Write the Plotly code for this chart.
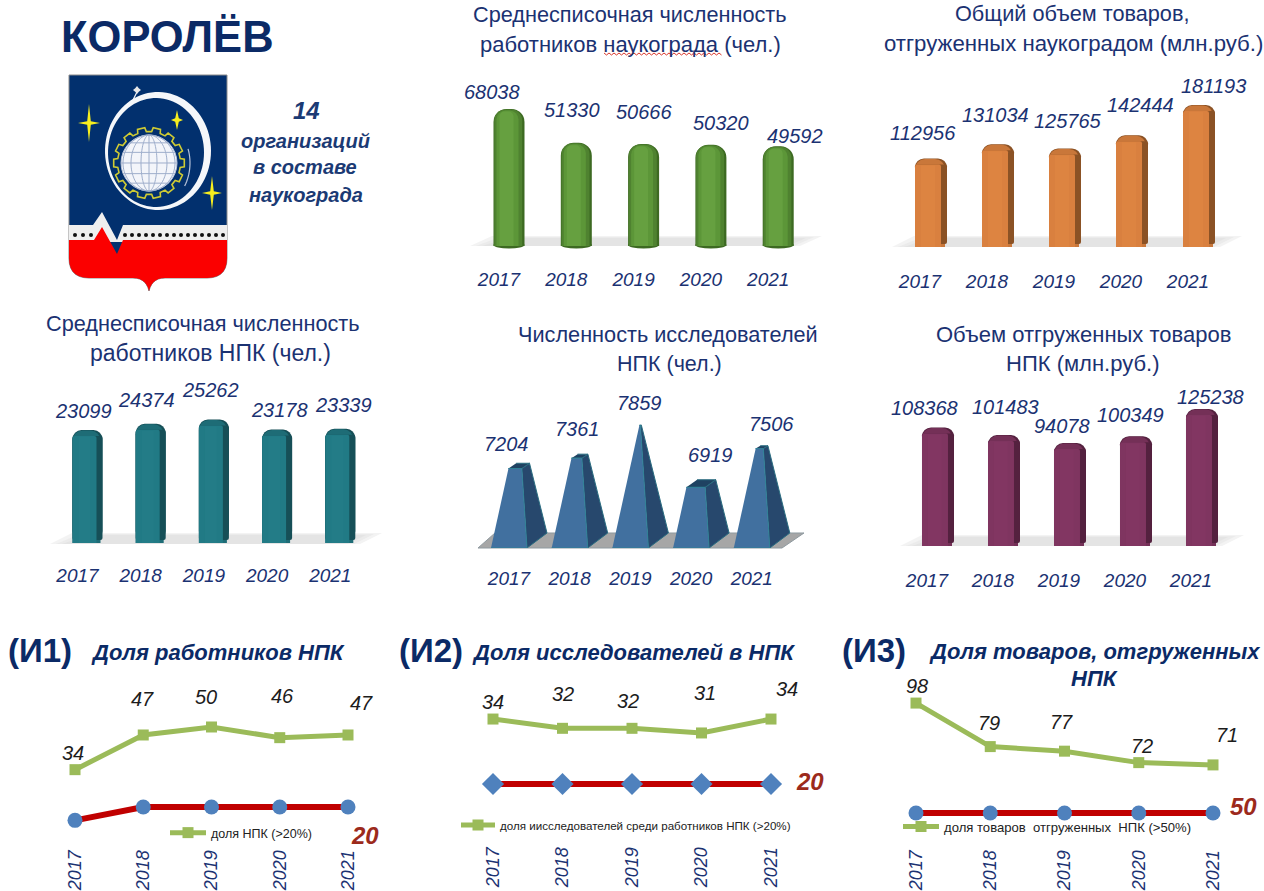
import numpy as np
import plotly.graph_objects as go

# ---------- data ----------
years = [2017, 2018, 2019, 2020, 2021]
staff_city = [68038, 51330, 50666, 50320, 49592]
goods_city = [112956, 131034, 125765, 142444, 181193]
staff_npk = [23099, 24374, 25262, 23178, 23339]
researchers_npk = [7204, 7361, 7859, 6919, 7506]
goods_npk = [108368, 101483, 94078, 100349, 125238]
share_staff = [34, 47, 50, 46, 47]
share_staff_limit = [15, 20, 20, 20, 20]
share_research = [34, 32, 32, 31, 34]
share_research_limit = [20, 20, 20, 20, 20]
share_goods = [98, 79, 77, 72, 71]
share_goods_limit = [50, 50, 50, 50, 50]

# ---------- layout helpers ----------
W, H = 1264, 891
NAVY = "#1b3272"
FONT = "Liberation Sans"
fx = lambda x: x / W
fy = lambda y: 1 - y / H

shapes, annotations = [], []
layout = dict(
    width=W, height=H, margin=dict(l=0, r=0, t=0, b=0, autoexpand=False), autosize=False,
    paper_bgcolor="white", plot_bgcolor="rgba(0,0,0,0)",
    font=dict(family=FONT, color=NAVY), hovermode=False,
)
fig = go.Figure()


def path(points, close=True):
    s = "M " + " L ".join(f"{fx(x):.5f} {fy(y):.5f}" for x, y in points)
    return s + (" Z" if close else "")


def add_path(points, fill=None, line=None, lw=0, close=True, opacity=1, raw=None):
    shapes.append(dict(type="path", path=raw or path(points, close), xref="paper", yref="paper",
                       fillcolor=fill or "rgba(0,0,0,0)", opacity=opacity, layer="below",
                       fillrule="evenodd",
                       line=dict(color=line or "rgba(0,0,0,0)", width=lw)))


def add_circle(cx, cy, rx, ry, fill, line=None, lw=0):
    shapes.append(dict(type="circle", xref="paper", yref="paper", layer="below",
                       x0=fx(cx - rx), x1=fx(cx + rx), y0=fy(cy + ry), y1=fy(cy - ry),
                       fillcolor=fill, line=dict(color=line or "rgba(0,0,0,0)", width=lw)))


def text(x, y, s, size, color=NAVY, bold=False, italic=False, anchor="center", family=FONT):
    annotations.append(dict(x=fx(x), y=fy(y), xref="paper", yref="paper", text=s, showarrow=False,
                            xanchor=anchor, yanchor="middle", align="center",
                            font=dict(size=size, color=color, family=family,
                                      weight="bold" if bold else "normal",
                                      style="italic" if italic else "normal")))


axis_no = [0]


def make_axes(x_first, dx, y_top, y_base, px_per_unit, base_value=0, tick_len=22,
              tick_shift=0, angle=0, tick_size=19, pad=0.72):
    """Places one pair of axes so that the years and values land on the wanted pixels."""
    axis_no[0] += 1
    n = axis_no[0]
    suffix = "" if n == 1 else str(n)
    r0, r1 = years[0] - pad, years[-1] + pad
    px0 = x_first - pad * dx
    px1 = x_first + (len(years) - 1 + pad) * dx
    layout["xaxis" + suffix] = dict(
        domain=[fx(px0), fx(px1)], range=[r0, r1], anchor="y" + suffix, tickmode="array",
        tickvals=years, ticktext=[str(y) for y in years], showgrid=False, zeroline=False,
        showline=False, ticks="outside", ticklen=tick_len, tickcolor="rgba(0,0,0,0)",
        ticklabelshift=int(round(tick_shift)), tickangle=angle, automargin=False,
        tickfont=dict(size=tick_size, style="italic", color=NAVY, family=FONT),
    )
    layout["yaxis" + suffix] = dict(
        domain=[fy(y_base), fy(y_top)], anchor="x" + suffix, visible=False, showgrid=False,
        zeroline=False, automargin=False, range=[base_value, base_value + (y_base - y_top) / px_per_unit],
    )
    ref = ("x" + suffix, "y" + suffix)

    def to_px(year, value):
        return x_first + dx * (year - years[0]), y_base - (value - base_value) * px_per_unit

    return ref, to_px


def value_labels(ref, to_px, values, positions, size=20, color=NAVY):
    for yr, v, (lx, ly) in zip(years, values, positions):
        px, py = to_px(yr, v)
        annotations.append(dict(x=yr, y=v, xref=ref[0], yref=ref[1], text=str(v), showarrow=False,
                                xshift=lx - px, yshift=py - ly, xanchor="center", yanchor="middle",
                                font=dict(size=size, color=color, style="italic", family=FONT)))


def floor_band(floor):
    fx0, fx1, fy0, fy1, skew = floor
    for k, op in enumerate([0.35, 0.35, 0.45]):
        add_path([(fx0 + 6 * k, fy0), (fx1 - 6 * k, fy0), (fx1 + skew - 8 * k, fy1 + k),
                  (fx0 + skew + 8 * k, fy1 + k)], fill="#dcdcdc", opacity=op)


def cylinder_chart(values, colors, x_first, dx, y_base, px_per_unit, width, tick_shift, label_pos,
                   floor, tick_len):
    ref, to_px = make_axes(x_first, dx, 60, y_base, px_per_unit, tick_len=tick_len, tick_shift=tick_shift)
    floor_band(floor)
    layers = [(width, 0, 0, colors[0]), (width - 3, -0.8, 0.6, colors[1]),
              (width - 9, -1.5, 1.6, colors[2]), (width - 17, -2.5, 2.6, colors[3])]
    for yr, v in zip(years, values):
        px, _ = to_px(yr, v)
        add_circle(px, y_base - 1, width / 2, 3.5, colors[0])
    for w, shift, drop, col in layers:
        fig.add_trace(go.Bar(
            x=years, y=[v - drop / px_per_unit for v in values], xaxis=ref[0], yaxis=ref[1],
            width=w / dx, offset=(shift - w / 2) / dx, showlegend=False,
            marker=dict(color=col, line_width=0, cornerradius=max(3, w * 0.42)),
        ))
    value_labels(ref, to_px, values, label_pos)


def box_chart(values, colors, x_first, dx, y_top, y_base, px_per_unit, width, tick_shift, label_pos,
              floor, tick_len):
    """Rounded box: dark right side, slightly darker top cap, flat front face."""
    side, cap, face, sheen = colors
    ref, to_px = make_axes(x_first, dx, y_top, y_base, px_per_unit, tick_len=tick_len, tick_shift=tick_shift)
    floor_band(floor)
    front = width - 6
    fig.add_trace(go.Bar(
        x=years, y=[v - 3 / px_per_unit for v in values], base=[3 / px_per_unit] * len(values),
        xaxis=ref[0], yaxis=ref[1], width=width / dx, offset=-width / 2 / dx, showlegend=False,
        marker=dict(color=side, line_width=0, cornerradius=9),
    ))
    fig.add_trace(go.Bar(
        x=years, y=[v - 0.5 / px_per_unit for v in values], xaxis=ref[0], yaxis=ref[1],
        width=(width - 2) / dx, offset=-(width / 2) / dx, showlegend=False,
        marker=dict(color=cap, line_width=0, cornerradius=10),
    ))
    # the side strip shows again below the cap
    fig.add_trace(go.Bar(
        x=years, y=[v - 9 / px_per_unit for v in values], base=[3 / px_per_unit] * len(values),
        xaxis=ref[0], yaxis=ref[1], width=width / dx, offset=-width / 2 / dx, showlegend=False,
        marker=dict(color=side, line_width=0, cornerradius=2),
    ))
    fig.add_trace(go.Bar(
        x=years, y=[v - 6 / px_per_unit for v in values], xaxis=ref[0], yaxis=ref[1],
        width=front / dx, offset=-width / 2 / dx, showlegend=False,
        marker=dict(color=face, line_width=0, cornerradius=2),
    ))
    fig.add_trace(go.Bar(
        x=years, y=[v - 7 / px_per_unit for v in values], xaxis=ref[0], yaxis=ref[1],
        width=(front - 12) / dx, offset=(-width / 2 + 6) / dx, showlegend=False,
        marker=dict(color=sheen, line_width=0, cornerradius=1),
    ))
    value_labels(ref, to_px, values, label_pos)


def line_chart(main, limit, x_first, dx, y_top, y_base, scale, base_value, symbol, limit_size,
               label_pos, legend_name, legend_key, legend_xy, limit_pos, legend_size, item_width):
    ref, to_px = make_axes(x_first, dx, y_top, y_base, scale, base_value=base_value, tick_len=8,
                           angle=-90, tick_size=18, pad=0.35)
    fig.add_trace(go.Scatter(
        x=years, y=limit, xaxis=ref[0], yaxis=ref[1], mode="lines+markers", showlegend=False,
        line=dict(color="#C00000", width=6), cliponaxis=False,
        marker=dict(color="#4F81BD", size=limit_size, symbol=symbol),
    ))
    fig.add_trace(go.Scatter(
        x=years, y=main, xaxis=ref[0], yaxis=ref[1], mode="lines+markers", name=legend_name,
        line=dict(color="#9BBB59", width=5), cliponaxis=False, legend=legend_key,
        marker=dict(color="#9BBB59", size=11, symbol="square"),
    ))
    value_labels(ref, to_px, main, label_pos, color="#1c1c1c")
    layout[legend_key] = dict(x=fx(legend_xy[0]), y=fy(legend_xy[1]), xanchor="left", yanchor="middle",
                              bgcolor="rgba(0,0,0,0)", font=dict(size=legend_size, color="#222222", family=FONT),
                              itemwidth=item_width, tracegroupgap=0, borderwidth=0)
    text(limit_pos[0], limit_pos[1], str(limit[-1]), 24, color="#9c2a1c", bold=True, italic=True)


# ---------- bar panels ----------
cylinder_chart(staff_city, ["#3d6a22", "#4f8230", "#5c9638", "#66a040"], 509, 67.3, 246, 137 / 68038, 31, -10,
               [(492, 92), (572, 110), (644, 112), (721, 123), (795, 136)], (470, 800, 246, 236, 22), 16)
box_chart(goods_city, ["#8b5225", "#c9773a", "#d9803f", "#dd8441"], 931, 67, 60, 247, 142 / 181193, 32, -11,
          [(923, 133), (995, 115), (1068, 121), (1140, 105), (1213, 86)], (892, 1220, 247, 236, 22), 17)
box_chart(staff_npk, ["#164f57", "#1e6c76", "#217a85", "#237c87"], 87.5, 63.2, 380, 543, 113 / 23099, 30, -10,
          [(84, 411), (147, 400), (211, 390), (280, 410), (344, 405)], (50, 360, 544, 533, 22), 15)
box_chart(goods_npk, ["#54213f", "#743057", "#7f3560", "#823662"], 938, 66, 380, 546, 137 / 125238, 32, -11,
          [(924, 408), (1005, 407), (1062, 426), (1130, 415), (1210, 397)], (900, 1222, 546, 535, 22), 17)

# ---------- pyramid panel ----------
PY_BASE = 6000
PY_SCALE = 0.066
PY_DX = 60.7
ref4, to_px4 = make_axes(509, PY_DX, 380, 548, PY_SCALE, base_value=PY_BASE, tick_len=13, pad=0.72)
apex = max(researchers_npk)
add_path([(478, 548), (782, 548), (804, 533), (495, 533)], fill="#a6a6a6", line="#8f9aa0", lw=1)
for yr, v in zip(years, researchers_npk):
    t = (v - PY_BASE) / (apex - PY_BASE)
    to_u = lambda p: p / PY_DX
    left, right = -18, 18
    l_top, r_top = left + 27 * t, right - 8 * t
    back_b, back_t = right + 20, right + 20 - 27 * t
    lift = 15
    fig.add_trace(go.Scatter(
        x=[yr + to_u(right), yr + to_u(back_b), yr + to_u(back_t), yr + to_u(r_top)],
        y=[PY_BASE, PY_BASE + lift / PY_SCALE, v + (lift * (1 - t)) / PY_SCALE, v],
        xaxis=ref4[0], yaxis=ref4[1], mode="lines", fill="toself", fillcolor="#27486d",
        line=dict(color="#2a6d80", width=1), showlegend=False, cliponaxis=False,
    ))
    fig.add_trace(go.Scatter(
        x=[yr + to_u(l_top), yr + to_u(r_top), yr + to_u(back_t), yr + to_u(l_top + (back_t - r_top))],
        y=[v, v, v + (lift * (1 - t)) / PY_SCALE, v + (lift * (1 - t)) / PY_SCALE],
        xaxis=ref4[0], yaxis=ref4[1], mode="lines", fill="toself", fillcolor="#1f4262",
        line=dict(color="#2a6d80", width=1), showlegend=False, cliponaxis=False,
    ))
    fig.add_trace(go.Scatter(
        x=[yr + to_u(left), yr + to_u(right), yr + to_u(r_top), yr + to_u(l_top)],
        y=[PY_BASE, PY_BASE, v, v],
        xaxis=ref4[0], yaxis=ref4[1], mode="lines", fill="toself", fillcolor="#41709f",
        line=dict(color="#2f8296", width=1), showlegend=False, cliponaxis=False,
    ))
value_labels(ref4, to_px4, researchers_npk, [(507, 444), (578, 429), (640, 403), (711, 455), (772, 424)])

# ---------- line panels ----------
line_chart(share_staff, share_staff_limit, 75, 68.25, 680, 834, 2.667, 20 - (834 - 807) / 2.667, "circle", 15,
           [(73, 753), (142, 699), (206, 697), (282, 696), (361, 703)],
           "доля НПК (>20%)", "legend", (165, 833), (365, 835), 12.5, 36)
line_chart(share_research, share_research_limit, 493, 69.5, 680, 831, 4.64, 20 - (831 - 784) / 4.64, "diamond", 17,
           [(493, 702), (563, 694), (628, 701), (705, 693), (787, 689)],
           "доля иисследователей среди работников НПК (>20%)", "legend2", (456, 825), (810, 781), 11.6, 34)
line_chart(share_goods, share_goods_limit, 916, 74.25, 680, 834, 2.29, 50 - (834 - 813) / 2.29, "circle", 15,
           [(917, 686), (989, 723), (1061, 722), (1142, 746), (1227, 735)],
           "доля товаров \u00a0отгруженных \u00a0НПК (>50%)", "legend3", (898, 827), (1243, 806), 13.1, 36)

# ---------- titles ----------
text(630, 14, "Среднесписочная численность", 21.7)
text(630, 44, "работников наукограда (чел.)", 22)
text(1072, 13, "Общий объем товаров,", 21.7)
text(1073, 43, "отгруженных наукоградом (млн.руб.)", 22.2)
text(203, 323, "Среднесписочная численность", 21.7)
text(210, 353, "работников НПК (чел.)", 23)
text(668, 334, "Численность исследователей", 21.7)
text(669, 364, "НПК (чел.)", 21.5)
text(1083, 334, "Объем отгруженных товаров", 22)
text(1082, 364, "НПК (млн.руб.)", 22)
zig = [(604 + i * 2.5, 53 + (i % 2) * 2) for i in range(48)]
add_path(zig, line="#d8362a", lw=1, close=False)

text(168, 37, "КОРОЛЁВ", 43.5, color="#0b2a66", bold=True)
text(306, 110, "14", 24, color="#1b3a74", bold=True, italic=True)
text(305, 141, "организаций", 20, color="#1b3a74", bold=True, italic=True)
text(305, 167, "в составе", 20, color="#1b3a74", bold=True, italic=True)
text(306, 195, "наукограда", 20, color="#1b3a74", bold=True, italic=True)

HEAD = "#0b2a66"
text(40, 650, "(И1)", 33, color=HEAD, bold=True)
text(218, 652, "Доля работников НПК", 22, color=HEAD, bold=True, italic=True)
text(431, 650, "(И2)", 33, color=HEAD, bold=True)
text(633, 652, "Доля исследователей в НПК", 22, color=HEAD, bold=True, italic=True)
text(874, 650, "(И3)", 33, color=HEAD, bold=True)
text(1094, 651, "Доля товаров, отгруженных", 22, color=HEAD, bold=True, italic=True)
text(1094, 678, "НПК", 22, color=HEAD, bold=True, italic=True)

# ---------- emblem (decoration) ----------
def qcurve(p0, c, p1, n=8):
    return [((1 - t) ** 2 * p0[0] + 2 * (1 - t) * t * c[0] + t ** 2 * p1[0],
             (1 - t) ** 2 * p0[1] + 2 * (1 - t) * t * c[1] + t ** 2 * p1[1])
            for t in np.linspace(0, 1, n)]


lower_edge = (qcurve((227, 258), (227, 278), (207, 278)) + qcurve((165, 278), (152, 278), (149, 291))
              + qcurve((149, 291), (146, 278), (133, 278)) + qcurve((89, 278), (69, 278), (69, 258)))
add_path([(69, 75), (227, 75)] + lower_edge, fill="#02306e", line="#8b8b8b", lw=1)
add_path([(69, 225), (93, 225), (102, 212), (117, 240), (123, 225), (227, 225), (227, 242), (69, 242)],
         fill="#efefef")
add_path([(69, 240), (94, 240), (102, 227), (117, 254), (123, 240), (227, 240)] + lower_edge, fill="#fb0000")
for dot_x in [75, 83, 91] + [125 + 7 * i for i in range(15)]:
    add_circle(dot_x, 235, 2, 2, "#111111")


def ellipse(cx, cy, rx, ry, a0=0, a1=360, n=90):
    ang = np.radians(np.linspace(a0, a1, n))
    return [(cx + rx * np.cos(a), cy + ry * np.sin(a)) for a in ang]


# orbit ring, heavier on the upper right
add_path(None, fill="#f5f7fa", raw=path(ellipse(158, 151, 53, 59)) + " " + path(ellipse(156, 152.5, 48, 54.5)))
add_path([(127, 108), (133, 100), (137, 92)], line="#f5f7fa", lw=1.2, close=False)
add_path(ellipse(150, 163, 40, 46, -18, 30, 16), line="#b7c3da", lw=1.2, close=False)

# gear and globe
gear = []
STEP = 360 / 14
for i in range(14):
    for a, r in ((-6, 35.5), (6, 35.5), (8, 31.5), (STEP - 8, 31.5)):
        ang = np.radians(i * STEP + a)
        gear.append((149 + r * np.cos(ang), 163 + r * np.sin(ang)))
add_path(gear, line="#cfcb33", lw=1.6)
add_circle(149, 163, 28, 28, "#f3f5fa", line="#b9c4da", lw=1)
for rx in (8, 18, 26):
    add_path(ellipse(149, 163, rx, 28), line="#9eaecb", lw=1, close=False)
add_path([(149, 135), (149, 191)], line="#9eaecb", lw=1, close=False)
for k in (-0.72, -0.38, 0, 0.38, 0.72):
    half = 28 * np.sqrt(1 - k * k)
    add_path([(149 - half, 163 + k * 28), (149 + half, 163 + k * 28)], line="#9eaecb", lw=1, close=False)


def star(cx, cy, h, v, col="#f7ee1e"):
    q = 1.8
    add_path([(cx, cy - v), (cx + q, cy - q), (cx + h, cy), (cx + q, cy + q),
              (cx, cy + v), (cx - q, cy + q), (cx - h, cy), (cx - q, cy - q)], fill=col)


star(89, 123, 11, 19)
star(177, 120, 6, 10)
star(212, 193, 10, 17)
star(137, 90, 4, 4, "#e8e8e8")

layout["shapes"] = shapes
layout["annotations"] = annotations
layout["barmode"] = "overlay"
layout["showlegend"] = True
fig.update_layout(**layout)
fig.write_html("out.html", post_script="document.body.style.margin='0';", config={"displayModeBar": False})
